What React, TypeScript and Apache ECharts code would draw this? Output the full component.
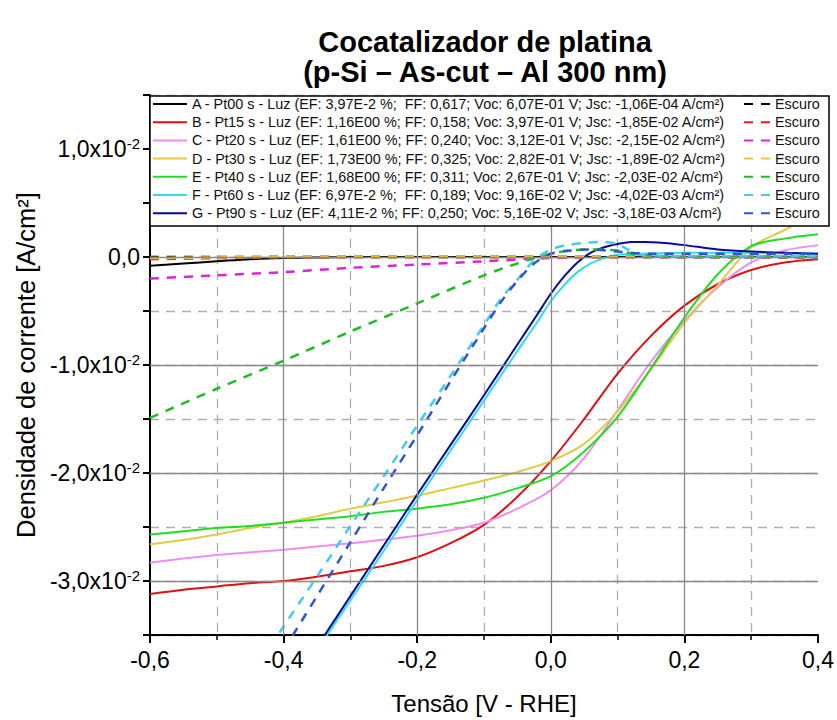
import React, { useEffect, useRef } from 'react';
import * as echarts from 'echarts';

const FONT = '"Liberation Sans", Arial, sans-serif';

const luzNames = [
  'A - Pt00 s - Luz (EF: 3,97E-2 %;  FF: 0,617; Voc: 6,07E-01 V; Jsc: -1,06E-04 A/cm²)',
  'B - Pt15 s - Luz (EF: 1,16E00 %; FF: 0,158; Voc: 3,97E-01 V; Jsc: -1,85E-02 A/cm²)',
  'C - Pt20 s - Luz (EF: 1,61E00 %; FF: 0,240; Voc: 3,12E-01 V; Jsc: -2,15E-02 A/cm²)',
  'D - Pt30 s - Luz (EF: 1,73E00 %; FF: 0,325; Voc: 2,82E-01 V; Jsc: -1,89E-02 A/cm²)',
  'E - Pt40 s - Luz (EF: 1,68E00 %; FF: 0,311; Voc: 2,67E-01 V; Jsc: -2,03E-02 A/cm²)',
  'F - Pt60 s - Luz (EF: 6,97E-2 %;  FF: 0,189; Voc: 9,16E-02 V; Jsc: -4,02E-03 A/cm²)',
  'G - Pt90 s - Luz (EF: 4,11E-2 %; FF: 0,250; Voc: 5,16E-02 V; Jsc: -3,18E-03 A/cm²)',
];
const escuroNames = ['Escuro A', 'Escuro B', 'Escuro C', 'Escuro D', 'Escuro E', 'Escuro F', 'Escuro G'];
const escuroLabel = 'Escuro';

const luzColors = ['#000000', '#dd1111', '#f08cf0', '#e0cc48', '#22dd22', '#33dde8', '#0a0a99'];
const escuroColors = ['#000000', '#e02020', '#dd22dd', '#e8c840', '#22bb22', '#44ccee', '#3355cc'];

const xTicksMajor = [-0.4, -0.2, 0, 0.2];
const yTicksMajor = [-0.03, -0.02, -0.01, 0, 0.01];

const luzA = [[-0.6, -0.0008], [-0.55, -0.0006], [-0.5, -0.0004], [-0.45, -0.0002], [-0.4, -0.0001], [-0.3, 0], [-0.2, 0], [0, 0], [0.2, 0], [0.4, 0]];
const luzB = [[-0.6, -0.0312], [-0.55, -0.0308], [-0.5, -0.0305], [-0.45, -0.0302], [-0.4, -0.03], [-0.35, -0.0296], [-0.3, -0.0291], [-0.25, -0.0286], [-0.2, -0.0278], [-0.15, -0.0265], [-0.1, -0.0248], [-0.05, -0.0222], [0, -0.0189], [0.05, -0.015], [0.1, -0.0108], [0.15, -0.0073], [0.2, -0.0045], [0.25, -0.0025], [0.3, -0.0012], [0.35, -0.0005], [0.4, -0.0002]];
const luzC = [[-0.6, -0.0283], [-0.5, -0.0276], [-0.4, -0.0271], [-0.3, -0.0265], [-0.2, -0.0258], [-0.15, -0.0253], [-0.1, -0.0246], [-0.05, -0.0233], [0, -0.0216], [0.05, -0.0186], [0.1, -0.0142], [0.15, -0.0097], [0.2, -0.0059], [0.25, -0.0028], [0.3, -0.0005], [0.35, 0.0006], [0.4, 0.0011]];
const luzD = [[-0.6, -0.0266], [-0.55, -0.0262], [-0.5, -0.0257], [-0.45, -0.0251], [-0.4, -0.0246], [-0.35, -0.024], [-0.3, -0.0233], [-0.25, -0.0227], [-0.2, -0.0221], [-0.15, -0.0214], [-0.1, -0.0207], [-0.05, -0.0199], [0, -0.0189], [0.05, -0.0173], [0.1, -0.0143], [0.15, -0.0104], [0.2, -0.0061], [0.25, -0.0026], [0.3, 0.0009], [0.35, 0.0025], [0.4, 0.004]];
const luzE = [[-0.6, -0.0257], [-0.55, -0.0254], [-0.5, -0.0251], [-0.45, -0.0249], [-0.4, -0.0246], [-0.35, -0.0243], [-0.3, -0.024], [-0.25, -0.0236], [-0.2, -0.0233], [-0.15, -0.0229], [-0.1, -0.0223], [-0.05, -0.0214], [0, -0.0203], [0.05, -0.018], [0.1, -0.0148], [0.15, -0.0103], [0.2, -0.0056], [0.25, -0.0016], [0.3, 0.001], [0.35, 0.0017], [0.4, 0.0021]];
const luzF = [[-0.35, -0.0364], [-0.3, -0.0318], [-0.25, -0.0272], [-0.2, -0.0225], [-0.15, -0.0179], [-0.1, -0.0133], [-0.05, -0.0087], [-0.02, -0.006], [0, -0.0041], [0.02, -0.0026], [0.04, -0.0014], [0.06, -0.0006], [0.08, -0.0001], [0.1, 0.0002], [0.13, 0.0003], [0.2, 0.0004], [0.3, 0.0004], [0.4, 0.0003]];
const luzG = [[-0.35, -0.0361], [-0.3, -0.0314], [-0.25, -0.0267], [-0.2, -0.022], [-0.15, -0.0174], [-0.1, -0.0128], [-0.05, -0.0081], [-0.02, -0.0053], [0, -0.0034], [0.02, -0.0018], [0.04, -0.0005], [0.06, 0.0004], [0.08, 0.0009], [0.1, 0.0012], [0.12, 0.0014], [0.14, 0.0014], [0.17, 0.0013], [0.2, 0.0011], [0.25, 0.0007], [0.3, 0.0005], [0.35, 0.0004], [0.4, 0.0003]];

const escA = [[-0.6, 0], [-0.3, 0], [0, 0], [0.2, 0], [0.4, 0]];
const escB = [[-0.6, -0.0002], [-0.5, -0.0001], [-0.4, 0], [0, 0], [0.4, 0]];
const escC = [[-0.6, -0.002], [-0.5, -0.0017], [-0.4, -0.0014], [-0.3, -0.001], [-0.2, -0.0007], [-0.1, -0.0004], [0, -0.0001], [0.1, 0], [0.4, -0.0001]];
const escD = [[-0.6, -0.0001], [-0.4, 0], [0, 0], [0.4, 0]];
const escE = [[-0.6, -0.0149], [-0.5, -0.0122], [-0.4, -0.0096], [-0.3, -0.0069], [-0.2, -0.0043], [-0.1, -0.0017], [-0.05, -0.0006], [0, 0.0003], [0.03, 0.0006], [0.06, 0.0007], [0.1, 0.0006], [0.13, 0.0002], [0.2, 0], [0.4, 0]];
const escF = [[-0.42, -0.0361], [-0.4, -0.0342], [-0.35, -0.0296], [-0.3, -0.0249], [-0.25, -0.0203], [-0.2, -0.0156], [-0.15, -0.011], [-0.1, -0.0063], [-0.075, -0.0039], [-0.05, -0.0021], [-0.025, -0.0003], [0, 0.0007], [0.025, 0.0011], [0.05, 0.0013], [0.08, 0.0014], [0.1, 0.0012], [0.115, 0.0007], [0.13, 0.0002], [0.2, 0.0001], [0.4, 0.0001]];
const escG = [[-0.4, -0.0364], [-0.35, -0.0314], [-0.3, -0.0264], [-0.25, -0.0214], [-0.2, -0.0165], [-0.15, -0.0115], [-0.1, -0.0066], [-0.075, -0.0042], [-0.05, -0.0022], [-0.025, -0.0006], [0, 0.0003], [0.03, 0.0006], [0.06, 0.0007], [0.1, 0.0005], [0.15, 0.0003], [0.4, 0.0003]];

const luzData = [luzA, luzB, luzC, luzD, luzE, luzF, luzG];
const escuroData = [escA, escB, escC, escD, escE, escF, escG];

export default function App() {
  const ref = useRef<HTMLDivElement>(null);
  useEffect(() => {
    const chart = echarts.init(ref.current as HTMLDivElement, null, { renderer: 'svg' });
    const luzSeries = luzData.map((d, i) => ({
      type: 'line',
      name: luzNames[i],
      data: d,
      symbol: 'none',
      smooth: 0.3,
      z: 2,
      lineStyle: { color: luzColors[i], width: 2 },
      itemStyle: { color: luzColors[i] },
    }));
    const escSeries = escuroData.map((d, i) => ({
      type: 'line',
      name: escuroNames[i],
      data: d,
      symbol: 'none',
      smooth: 0.3,
      z: 3,
      lineStyle: { color: escuroColors[i], width: 2.5, type: [9, 8] },
      itemStyle: { color: escuroColors[i] },
    }));
    const gridSeries = {
      type: 'line',
      name: 'grid',
      data: [[-0.6, 0]],
      symbol: 'none',
      z: 1,
      lineStyle: { opacity: 0 },
      markLine: {
        silent: true,
        symbol: ['none', 'none'],
        label: { show: false },
        lineStyle: { color: '#8a8a8a', type: 'solid', width: 1.3 },
        data: [
          ...xTicksMajor.map((v) => ({ xAxis: v })),
          ...yTicksMajor.map((v) => ({ yAxis: v })),
        ],
      },
    };
    const legendBase = {
      orient: 'vertical',
      top: 97,
      padding: 0,
      itemHeight: 14,
      itemGap: 4.2,
      selectedMode: false,
      z: 10,
      itemStyle: { opacity: 0 },
      textStyle: { fontSize: 14.4, color: '#111', fontFamily: FONT },
    };
    const option: any = {
      animation: false,
      backgroundColor: '#fff',
      textStyle: { fontFamily: FONT },
      title: {
        text: 'Cocatalizador de platina\n(p-Si – As-cut – Al 300 nm)',
        left: 485,
        top: 27,
        padding: 0,
        textAlign: 'center',
        textStyle: { fontSize: 29, fontWeight: 'bold', lineHeight: 30, color: '#000', fontFamily: FONT },
      },
      grid: { left: 150, right: 17, top: 95, bottom: 85 },
      xAxis: {
        type: 'value',
        min: -0.6,
        max: 0.4,
        interval: 0.2,
        axisLine: { show: true, onZero: false, lineStyle: { color: '#000', width: 2 } },
        axisTick: { show: true, length: 8, lineStyle: { color: '#000', width: 2 } },
        minorTick: { show: true, splitNumber: 2, length: 5, lineStyle: { color: '#000', width: 1.5 } },
        splitLine: { show: false },
        minorSplitLine: { show: true, lineStyle: { color: '#b0b0b0', type: [9, 7], width: 1.3 } },
        axisLabel: {
          fontSize: 23,
          color: '#000',
          margin: 13,
          fontFamily: FONT,
          formatter: (v: number) => v.toFixed(1).replace('.', ','),
        },
        name: 'Tensão [V - RHE]',
        nameLocation: 'middle',
        nameGap: 56,
        nameTextStyle: { fontSize: 24, color: '#000', fontFamily: FONT },
      },
      yAxis: {
        type: 'value',
        min: -0.035,
        max: 0.015,
        interval: 0.005,
        axisLine: { show: true, onZero: false, lineStyle: { color: '#000', width: 2 } },
        axisTick: { show: true, length: 7, lineStyle: { color: '#000', width: 2 } },
        splitLine: { show: true, lineStyle: { color: '#b0b0b0', type: [9, 7], width: 1.3 } },
        axisLabel: {
          color: '#000',
          margin: 10,
          formatter: (v: number) => {
            const k = Math.round(v * 1000);
            if (k % 10 !== 0) return '';
            if (k === 0) return '{n|0,0}';
            return `{n|${k / 10},0x10}{s|-2}`;
          },
          rich: {
            n: { fontSize: 23, color: '#000', fontFamily: FONT, lineHeight: 26 },
            s: { fontSize: 15, color: '#000', fontFamily: FONT, verticalAlign: 'top', lineHeight: 14 },
          },
        },
        name: 'Densidade de corrente [A/cm²]',
        nameLocation: 'middle',
        nameGap: 104,
        nameTextStyle: { fontSize: 25.5, color: '#000', fontFamily: FONT },
      },
      legend: [
        { ...legendBase, left: 152, itemWidth: 34, data: luzNames },
        { ...legendBase, left: 743, itemWidth: 26, data: escuroNames, formatter: () => escuroLabel },
      ],
      graphic: [
        {
          type: 'rect',
          z: 9,
          shape: { x: 150, y: 96, width: 679, height: 130 },
          style: { fill: '#fff', stroke: '#000', lineWidth: 1.5 },
        },
      ],
      series: [gridSeries, ...luzSeries, ...escSeries],
    };
    chart.setOption(option);
    return () => chart.dispose();
  }, []);
  return <div ref={ref} style={{ position: 'absolute', left: 0, top: 0, width: 837, height: 720 }} />;
}
